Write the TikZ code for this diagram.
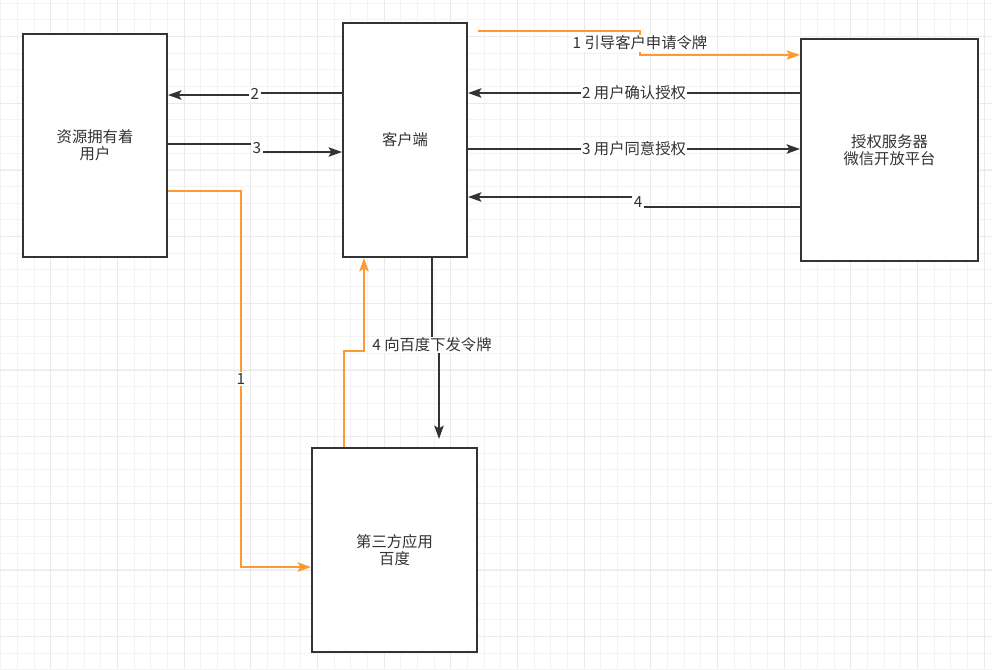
\documentclass[tikz,border=0pt]{standalone}
\usepackage{fontspec}
\newfontfamily\cjk{Noto Sans CJK SC}
\usetikzlibrary{arrows.meta,calc}
\definecolor{flowDark}{HTML}{333333}
\definecolor{flowOrange}{HTML}{FF9A33}
\definecolor{gridMinor}{HTML}{F3F3F3}
\definecolor{gridMajor}{HTML}{EAEAEA}
\tikzset{
  party/.style={draw=flowDark, line width=1.5pt, fill=white, anchor=north west,
    align=center, text=flowDark, font=\cjk\fontsize{11.5pt}{12.5pt}\selectfont,
    inner sep=0pt},
  flow/.style={flowDark, line width=1.5pt,
    -{Stealth[length=10pt,width=7pt,inset=2pt]}},
  token/.style={flow, flowOrange},
  step label/.style={fill=white, text=flowDark, inner sep=1pt,
    font=\cjk\fontsize{11.5pt}{12.5pt}\selectfont},
}

\begin{document}
\begin{tikzpicture}[x=0.75pt, y=-0.75pt, line cap=butt, line join=miter]
  \useasboundingbox (0,0) rectangle (992,669);
  % --- background grid (draw.io style) ---
  \foreach \i in {0,...,59}
    \draw[gridMinor, line width=0.75pt] (0.7+16.667*\i,0) -- ++(0,669);
  \foreach \i in {0,...,40}
    \draw[gridMinor, line width=0.75pt] (0,3.3+16.667*\i) -- ++(992,0);
  \foreach \i in {0,...,14}
    \draw[gridMajor, line width=0.75pt] (50.7+66.667*\i,0) -- ++(0,669);
  \foreach \i in {0,...,9}
    \draw[gridMajor, line width=0.75pt] (0,36.7+66.667*\i) -- ++(992,0);

  % --- the four parties ---
  \node[party, minimum width=108pt, minimum height=167.25pt] (owner) at (22,33)
    {资源拥有着\\用户};
  \node[party, minimum width=93pt, minimum height=175.5pt] (client) at (342,22)
    {客户端};
  \node[party, minimum width=132.75pt, minimum height=166.5pt] (auth) at (800,38)
    {授权服务器\\微信开放平台};
  \node[party, minimum width=123.75pt, minimum height=153pt] (third) at (311,447)
    {第三方应用\\百度};

  % --- client <-> authorization server ---
  \draw[token] ($(client.north east)+(10,9)$) -- ++(162,0)
    |- ($(auth.north west)+(0,17)$) node[step label, pos=0.25] {1 引导客户申请令牌};
  \draw[flow] ($(auth.north west)+(0,55)$) -- ($(client.north east)+(0,71)$)
    node[step label, midway] {2 用户确认授权};
  \draw[flow] ($(client.north east)+(0,127)$) -- ($(auth.north west)+(0,111)$)
    node[step label, midway] {3 用户同意授权};
  \draw[flow] ($(auth.north west)+(0,169)$) -- ++(-162,0)
    |- ($(client.north east)+(0,175)$) node[step label, pos=0.25] {4};

  % --- owner <-> client ---
  \draw[flow] ($(client.north west)+(0,71)$) -- ++(-87,0)
    |- ($(owner.north east)+(0,62)$) node[step label, pos=0.25] {2};
  \draw[flow] ($(owner.north east)+(0,111)$) -- ++(89,0)
    |- ($(client.north west)+(0,130)$) node[step label, pos=0.25] {3};

  % --- third party app ---
  \draw[token] ($(owner.north east)+(0,158)$) -- ++(73,0)
    |- ($(third.north west)+(0,120)$) node[step label, pos=0.25] {1};
  \draw[token] ($(third.north west)+(33,0)$) -- ++(0,-96)
    -| ($(client.south west)+(22,0)$);
  \draw[flow] ($(client.south west)+(90,0)$) -- ++(0,87)
    node[step label] {4 向百度下发令牌} -| ($(third.north west)+(128,-8)$);
\end{tikzpicture}
\end{document}
